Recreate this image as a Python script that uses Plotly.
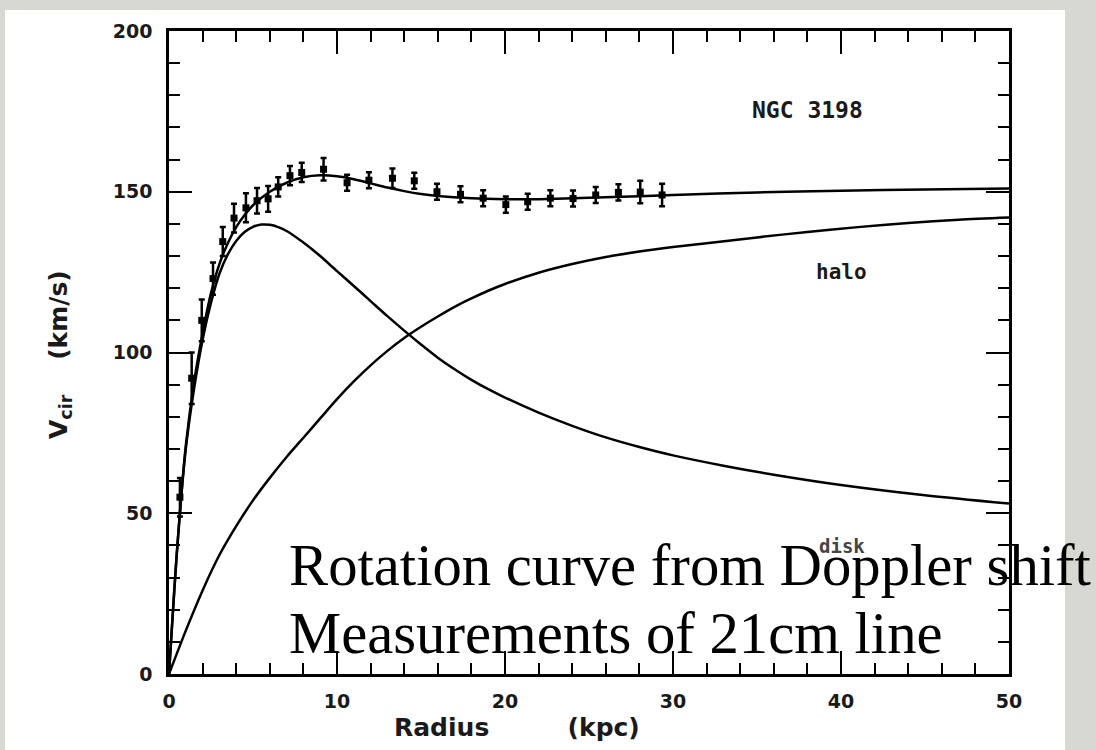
import plotly.graph_objects as go

# ---- data ----
r_obs = [0.65, 1.35, 1.95, 2.62, 3.2, 3.87, 4.58, 5.24, 5.9, 6.5, 7.2, 7.9, 9.2,
         10.6, 11.9, 13.3, 14.6, 15.95, 17.35, 18.7, 20.05, 21.35, 22.7, 24.05,
         25.4, 26.75, 28.05, 29.35]
v_obs = [55, 92, 110, 123, 134.5, 141.8, 145, 147.2, 147.8, 151.5, 155, 156, 157,
         152.8, 153.6, 154.2, 153.4, 150, 149.2, 148, 146, 146.9, 148, 147.9,
         149, 149.8, 149.9, 149]
v_err = [6, 8, 6.5, 5, 4.5, 4.5, 4.5, 4, 4, 3, 3, 3, 3.5,
         2.5, 2.5, 3, 2.5, 2.5, 2.5, 2.5, 2.5, 2.5, 2.5, 2.5,
         2.5, 2.5, 3.5, 3.5]

r_total = [0, 0.5, 1, 1.5, 2, 2.5, 3, 3.5, 4, 4.5, 5, 6, 7, 8, 9, 10, 11, 12, 13,
           14, 15, 16, 18, 20, 22, 25, 28, 30, 35, 40, 45, 50]
v_total = [0, 40, 71, 91, 106, 118.5, 127.5, 134, 139, 142.8, 145.8, 150, 152.8,
           154.5, 155.1, 154.8, 153.9, 152.6, 151.3, 150.2, 149.3, 148.7, 148, 147.7,
           147.7, 148.1, 148.6, 149, 149.8, 150.3, 150.7, 151]

r_disk = [0, 0.5, 1, 1.5, 2, 2.5, 3, 3.5, 4, 4.5, 5, 5.5, 6, 6.5, 7, 8, 9, 10, 11,
          12, 13, 14, 15, 16, 17, 18, 19, 20, 22, 24, 26, 28, 30, 33, 36, 40, 45, 50]
v_disk = [0, 40, 70, 89, 104, 115.5, 124.5, 130.5, 134.7, 137.5, 139.1, 139.8,
          139.7, 139, 137.8, 134.2, 130, 125.3, 120.7, 116, 111.3, 106.8, 102.5,
          98.4, 94.8, 91.5, 88.6, 86, 81.3, 77.2, 73.6, 70.6, 68, 64.8, 62, 58.8,
          55.6, 53]

r_halo = [0, 1, 2, 3, 4, 5, 6, 7, 8, 9, 10, 11, 12, 13, 14, 15, 16, 17, 18, 19, 20,
          22, 24, 26, 28, 30, 32, 35, 38, 41, 44, 47, 50]
v_halo = [0, 13.5, 26, 37, 46, 54, 61, 67.5, 73.5, 79.5, 85.5, 91, 96, 100.5, 104.5,
          108, 111.2, 114.2, 116.8, 119.2, 121.3, 124.8, 127.5, 129.7, 131.4, 132.8,
          134, 135.8, 137.5, 139, 140.3, 141.3, 142]

x_ticks = [0, 10, 20, 30, 40, 50]
y_ticks = [0, 50, 100, 150, 200]

# ---- layout geometry (pixels) ----
W, H = 1096, 750
L, R, T, B = 169, 1009, 31, 674


def px(xp):
    return (xp - L) / (R - L)


def py(yp):
    return (B - yp) / (B - T)


fig = go.Figure()

line_style = dict(color="black", width=2.5, shape="spline", smoothing=0.8)
fig.add_trace(go.Scatter(x=r_total, y=v_total, mode="lines", line=line_style,
                         showlegend=False, hoverinfo="skip"))
fig.add_trace(go.Scatter(x=r_disk, y=v_disk, mode="lines", line=line_style,
                         showlegend=False, hoverinfo="skip"))
fig.add_trace(go.Scatter(x=r_halo, y=v_halo, mode="lines", line=line_style,
                         showlegend=False, hoverinfo="skip"))
fig.add_trace(go.Scatter(
    x=r_obs, y=v_obs, mode="markers",
    marker=dict(color="black", size=7, symbol="square"),
    error_y=dict(type="data", array=v_err, color="black", thickness=2.5, width=3),
    showlegend=False))

tickfont = dict(family="DejaVu Sans", size=19, color="#1a1a1a", weight="bold")
axis_common = dict(
    showline=True, linecolor="black", linewidth=2.5, mirror="ticks",
    ticks="inside", ticklen=23, tickwidth=2, tickcolor="black",
    showgrid=False, zeroline=False, tickfont=tickfont,
)

fig.update_xaxes(range=[0, 50], tickvals=x_ticks, ticklabelstandoff=8,
                 minor=dict(dtick=2, ticks="inside", ticklen=11, tickwidth=2,
                            tickcolor="black", showgrid=False),
                 **axis_common)
fig.update_yaxes(range=[0, 200], tickvals=y_ticks, ticklabelstandoff=10,
                 minor=dict(dtick=10, ticks="inside", ticklen=11, tickwidth=2,
                            tickcolor="black", showgrid=False),
                 **axis_common)

title_font = dict(family="DejaVu Sans", size=25, color="#1a1a1a", weight="bold")
mono_font = dict(family="DejaVu Sans Mono", size=23, color="#1a1a1a", weight="bold")
nb = "\u00a0"

annotations = [
    dict(text="Radius" + nb * 9 + "(kpc)", x=px(517), y=py(727), font=title_font),
    dict(text="V<sub>cir</sub>" + nb * 4 + "(km/s)", x=px(60), y=py(354),
         textangle=-90, font=title_font),
    dict(text="NGC 3198", x=px(807), y=py(110), font=mono_font),
    dict(text="halo", x=px(841), y=py(272),
         font=dict(family="DejaVu Sans Mono", size=21, color="#1a1a1a", weight="bold")),
    dict(text="disk", x=px(842), y=py(546),
         font=dict(family="DejaVu Sans Mono", size=19, color="#444", weight="bold")),
    dict(text="Rotation curve from Doppler shift", x=px(287), y=py(565.5),
         xanchor="left", font=dict(family="Liberation Serif", size=58.7, color="black")),
    dict(text="Measurements of 21cm line", x=px(287), y=py(633.5),
         xanchor="left", font=dict(family="Liberation Serif", size=58.7, color="black")),
]
for a in annotations:
    a.setdefault("xanchor", "center")
    a.setdefault("yanchor", "middle")
    a.update(xref="paper", yref="paper", showarrow=False)

fig.update_layout(
    width=W, height=H,
    margin=dict(l=L, r=W - R, t=T, b=H - B, pad=0),
    paper_bgcolor="#d8d8d3",
    plot_bgcolor="white",
    annotations=annotations,
    shapes=[dict(type="rect", xref="paper", yref="paper",
                 x0=px(5), x1=px(1065), y0=py(790), y1=py(10),
                 fillcolor="white", line=dict(width=0), layer="below")],
)

fig.write_html("out.html")
